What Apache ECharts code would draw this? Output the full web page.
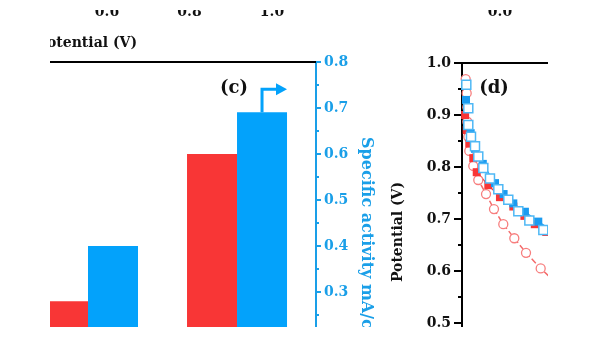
<!DOCTYPE html>
<html>
<head>
<meta charset="utf-8">
<script src="https://cdn.jsdelivr.net/npm/echarts@6/dist/echarts.min.js"></script>
<style>
  html, body { margin: 0; padding: 0; background: #fff; }
  #frame { position: absolute; left: 50px; top: 10px; width: 498px; height: 317px; overflow: hidden; }
  #chart { position: absolute; left: -50px; top: -10px; width: 600px; height: 338px; }
</style>
</head>
<body>
<div id="frame"><div id="chart"></div></div>
<script>
// Panel (c): activity bars for two catalysts
const groups = [1, 2];
const massActivity = [0.28, 0.60];      // red bars
const specificActivity = [0.40, 0.691]; // blue bars

// Panel (d): polarisation curves (current density, potential)
const blueFilled = [[0.077,0.929],[0.167,0.865],[0.25,0.835],[0.40,0.806],[0.635,0.769],[0.80,0.748],[0.987,0.730],[1.21,0.714],[1.467,0.695],[1.70,0.680]];
const blueOpen = [[0.083,0.958],[0.121,0.913],[0.121,0.881],[0.173,0.858],[0.25,0.840],[0.313,0.820],[0.41,0.798],[0.538,0.778],[0.698,0.757],[0.89,0.737],[1.083,0.715],[1.295,0.697],[1.564,0.679],[1.80,0.664]];
const redFilled = [[0.06,0.90],[0.09,0.871],[0.14,0.845],[0.217,0.817],[0.283,0.790],[0.506,0.765],[0.73,0.742],[0.987,0.724],[1.20,0.706],[1.40,0.690],[1.62,0.675]];
const redOpen = [[0.071,0.969],[0.090,0.942],[0.102,0.915],[0.102,0.887],[0.121,0.858],[0.140,0.831],[0.217,0.802],[0.313,0.775],[0.462,0.748],[0.615,0.719],[0.794,0.690],[1.006,0.663],[1.231,0.635],[1.513,0.605],[1.83,0.575]];

// Tick labels of the neighbouring panels above
const upperTickMin = 0.4, upperTickMax = 1.0, upperTickStep = 0.2;
const upperRightTick = '0.0';

const RED = '#f83636';
const BLUE = '#03a2fb';
const AXIS_BLUE = '#1a9fe8';
const FONT = 'DejaVu Serif';

const chart = echarts.init(document.getElementById('chart'), null, { renderer: 'canvas', width: 600, height: 338 });

const blueLabel = { color: AXIS_BLUE, fontFamily: FONT, fontWeight: 'bold', fontSize: 14 };
const blackLabel = { color: '#111', fontFamily: FONT, fontWeight: 'bold', fontSize: 14 };

const option = {
  animation: false,
  backgroundColor: '#fff',
  grid: [
    { left: 13.5, width: 302.5, top: 62, height: 276, outerBoundsMode: 'none', containLabel: false },   // panel (c)
    { left: 462, width: 260, top: 63, height: 312, outerBoundsMode: 'none', containLabel: false },      // panel (d)
    { left: 24.5, width: 247.5, top: 0, height: 2, outerBoundsMode: 'none', containLabel: false }       // axis of the panel above
  ],
  xAxis: [
    { gridIndex: 0, type: 'value', position: 'top', min: 0.5, max: 2.53,
      axisLine: { show: true, onZero: false, lineStyle: { color: '#000', width: 2 } },
      axisTick: { show: false }, axisLabel: { show: false }, splitLine: { show: false } },
    { gridIndex: 1, type: 'value', position: 'top', min: 0, max: 5,
      axisLine: { show: true, onZero: false, lineStyle: { color: '#000', width: 2 } },
      axisTick: { show: false }, axisLabel: { show: false }, splitLine: { show: false } },
    { gridIndex: 2, type: 'value', position: 'top', min: upperTickMin, max: upperTickMax, interval: upperTickStep,
      axisLine: { show: false }, axisTick: { show: false }, splitLine: { show: false },
      axisLabel: Object.assign({ inside: true, margin: 5, formatter: v => v.toFixed(1) }, blackLabel) }
  ],
  yAxis: [
    { gridIndex: 0, type: 'value', position: 'right', min: 0.2, max: 0.8, interval: 0.1,
      axisLine: { show: true, lineStyle: { color: AXIS_BLUE, width: 2 } },
      axisTick: { show: true, inside: false, length: 5, lineStyle: { color: AXIS_BLUE, width: 2 } },
      minorTick: { show: true, splitNumber: 2, length: 3, lineStyle: { color: AXIS_BLUE, width: 2 } },
      axisLabel: Object.assign({ margin: 8, formatter: v => v.toFixed(1) }, blueLabel),
      splitLine: { show: false } },
    { gridIndex: 1, type: 'value', position: 'left', min: 0.4, max: 1.0, interval: 0.1,
      axisLine: { show: true, lineStyle: { color: '#000', width: 2 } },
      axisTick: { show: true, inside: false, length: 8, lineStyle: { color: '#000', width: 2 } },
      minorTick: { show: true, splitNumber: 2, length: 4, lineStyle: { color: '#000', width: 2 } },
      axisLabel: Object.assign({ margin: 11, formatter: v => v.toFixed(1) }, blackLabel),
      splitLine: { show: false } },
    { gridIndex: 2, type: 'value', show: false, min: 0, max: 1 }
  ],
  series: [
    { type: 'bar', xAxisIndex: 0, yAxisIndex: 0, barWidth: 50, barGap: '0%',
      itemStyle: { color: RED }, data: groups.map((g, i) => [g, massActivity[i]]) },
    { type: 'bar', xAxisIndex: 0, yAxisIndex: 0, barWidth: 50, barGap: '0%',
      itemStyle: { color: BLUE }, data: groups.map((g, i) => [g, specificActivity[i]]) },
    { type: 'line', xAxisIndex: 1, yAxisIndex: 1, data: redOpen, symbol: 'circle', symbolSize: 9,
      lineStyle: { color: '#f46a6a', width: 1.5, type: 'dashed' },
      itemStyle: { color: '#fff', borderColor: '#f77e7e', borderWidth: 1.3 } },
    { type: 'line', xAxisIndex: 1, yAxisIndex: 1, data: redFilled, symbol: 'rect', symbolSize: 8,
      lineStyle: { color: RED, width: 1.2 }, itemStyle: { color: RED } },
    { type: 'line', xAxisIndex: 1, yAxisIndex: 1, data: blueFilled, symbol: 'rect', symbolSize: 8,
      lineStyle: { color: '#1a9bf0', width: 1.2 }, itemStyle: { color: '#1a9bf0' } },
    { type: 'line', xAxisIndex: 1, yAxisIndex: 1, data: blueOpen, symbol: 'rect', symbolSize: 9,
      lineStyle: { color: '#4fb8f5', width: 1.2 },
      itemStyle: { color: '#fff', borderColor: '#4fb8f5', borderWidth: 1.5 } }
  ],
  graphic: [
    { id: 'labelC', type: 'text', x: 234, y: 88, style: { text: '(c)', font: 'bold 18px "DejaVu Serif"', fill: '#111', align: 'center', verticalAlign: 'middle' } },
    { id: 'labelD', type: 'text', x: 494, y: 88, style: { text: '(d)', font: 'bold 18px "DejaVu Serif"', fill: '#111', align: 'center', verticalAlign: 'middle' } },
    { id: 'upperName', type: 'text', x: 137, y: 43, style: { text: 'Potential (V)', font: 'bold 14px "DejaVu Serif"', fill: '#111', align: 'right', verticalAlign: 'middle' } },
    { id: 'upperTick', type: 'text', x: 500, y: 12, style: { text: upperRightTick, font: 'bold 14px "DejaVu Serif"', fill: '#111', align: 'center', verticalAlign: 'middle' } },
    { id: 'nameC', type: 'text', x: 366, y: 137, rotation: -Math.PI / 2,
      style: { text: 'Specific activity mA/cm²', font: 'bold 16px "DejaVu Serif"', fill: AXIS_BLUE, align: 'left', verticalAlign: 'middle' } },
    { id: 'nameD', type: 'text', x: 398, y: 232, rotation: Math.PI / 2,
      style: { text: 'Potential (V)', font: 'bold 14px "DejaVu Serif"', fill: '#111', align: 'center', verticalAlign: 'middle' } }
  ]
};

chart.setOption(option);

// Arrow pointing from the blue bar to the right-hand axis
const barTop = chart.convertToPixel({ xAxisIndex: 0, yAxisIndex: 0 }, [groups[1], specificActivity[1]]);
const ax = barTop[0] + 25, ay = barTop[1];
chart.setOption({
  graphic: [
    { id: 'arrowLine', type: 'polyline', shape: { points: [[ax, ay], [ax, ay - 23], [ax + 17, ay - 23]] },
      style: { stroke: BLUE, lineWidth: 3, fill: null } },
    { id: 'arrowHead', type: 'polygon', shape: { points: [[ax + 14, ay - 29], [ax + 25, ay - 23], [ax + 14, ay - 17]] },
      style: { fill: BLUE } }
  ]
});
</script>
</body>
</html>
